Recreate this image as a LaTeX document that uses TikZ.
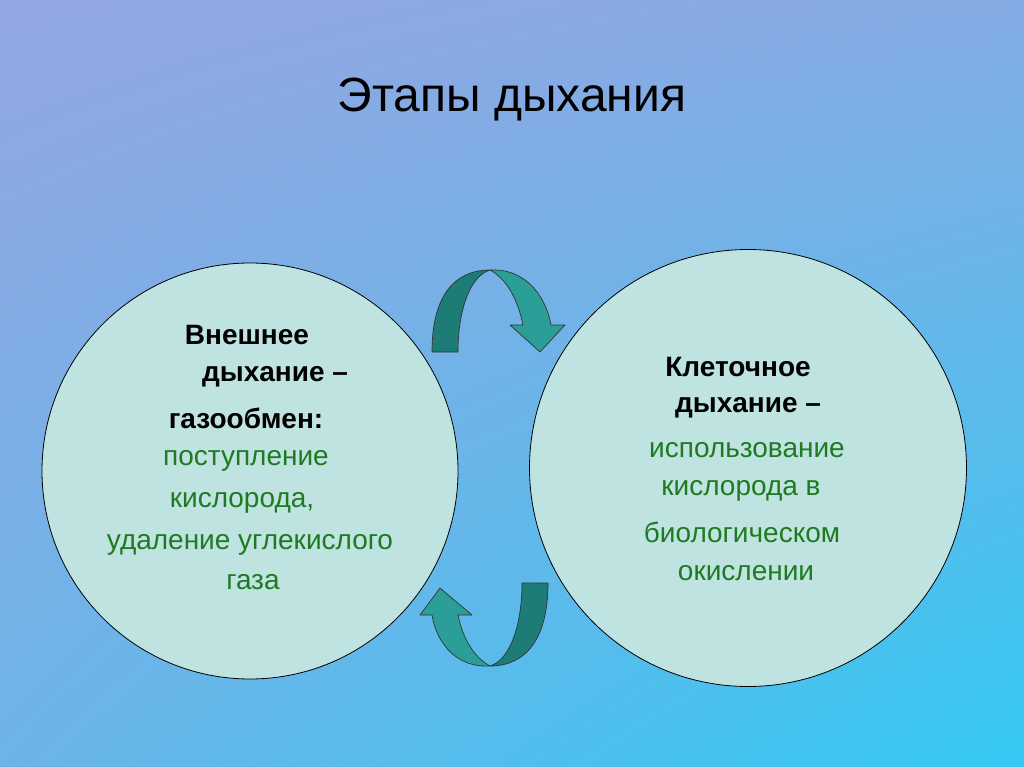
\documentclass[tikz,border=0pt]{standalone}
\usepackage{fontspec}
\setmainfont{Liberation Sans}
\usetikzlibrary{positioning, shadings}
\definecolor{bgtop}{HTML}{93A6E2}
\definecolor{bgbot}{HTML}{33C9F2}
\definecolor{disk}{HTML}{BEE3E0}
\definecolor{arrdark}{HTML}{1E7C76}
\definecolor{arrlight}{HTML}{2A9E97}
\definecolor{txtgreen}{HTML}{1F7A22}
\tikzset{
  ringbox/.style={circle, draw=black, line width=0.8pt, fill=disk},
  headtxt/.style={font=\fontsize{28}{30}\selectfont\bfseries, text=black},
  bodytxt/.style={font=\fontsize{28}{30}\selectfont, text=txtgreen},
  ribbon/.style={draw=black!80, line width=0.7pt, line join=round}
}
\begin{document}
\begin{tikzpicture}[x=1pt, y=-1pt]
        % background
        \shade[upper left=bgtop, upper right=bgtop!85!bgbot, lower left=bgtop!60!bgbot, lower right=bgbot]
            (0,0) rectangle (1024,767);
        \useasboundingbox (0,0) rectangle (1024,767);
        \node (title) at (512,100) {\fontsize{48}{50}\selectfont Этапы дыхания};
        % circles
        \node[ringbox, minimum size=416pt] (outer) at (250,471) {};
        \node[ringbox, minimum size=437pt] (cell) at (748,468) {};
        % left text
        \node[headtxt] (l1) at (247,335) {Внешнее};
        \node[headtxt] (l2) at (275,377) {дыхание –};
        \node[headtxt] (l3) at (246,418) {газообмен:};
        \node[bodytxt] (l4) at (246,461) {поступление};
        \node[bodytxt] (l5) at (242,503) {кислорода,};
        \node[bodytxt] (l6) at (250,545) {удаление углекислого};
        \node[bodytxt] (l7) at (253,582) {газа};
        % right text
        \node[headtxt] (r1) at (738,367) {Клеточное};
        \node[headtxt] (r2) at (748,408) {дыхание –};
        \node[bodytxt] (r3) at (747,450) {использование};
        \node[bodytxt] (r4) at (741,491) {кислорода в};
        \node[bodytxt] (r5) at (742,532) {биологическом};
        \node[bodytxt] (r6) at (746,573) {окислении};
        % top arrow
        \fill[arrdark, ribbon] (432,352) .. controls (432,295) and (455,270) .. (490,270)
            .. controls (470,276) and (458,310) .. (458,352) -- cycle;
        \fill[arrlight, ribbon] (490,270) .. controls (522,268) and (545,292) .. (551,325)
            -- (565,325) -- (540,352) -- (510,325) -- (523,325)
            .. controls (517,296) and (505,278) .. (490,270) -- cycle;
        % bottom arrow
        \fill[arrdark, ribbon] (548,583) .. controls (548,640) and (525,666) .. (490,666)
            .. controls (510,660) and (522,625) .. (522,583) -- cycle;
        \fill[arrlight, ribbon] (490,666) .. controls (458,668) and (437,645) .. (432,615)
            -- (420,615) -- (440,588) -- (472,615) -- (458,615)
            .. controls (463,640) and (475,658) .. (490,666) -- cycle;
\end{tikzpicture}
\end{document}
